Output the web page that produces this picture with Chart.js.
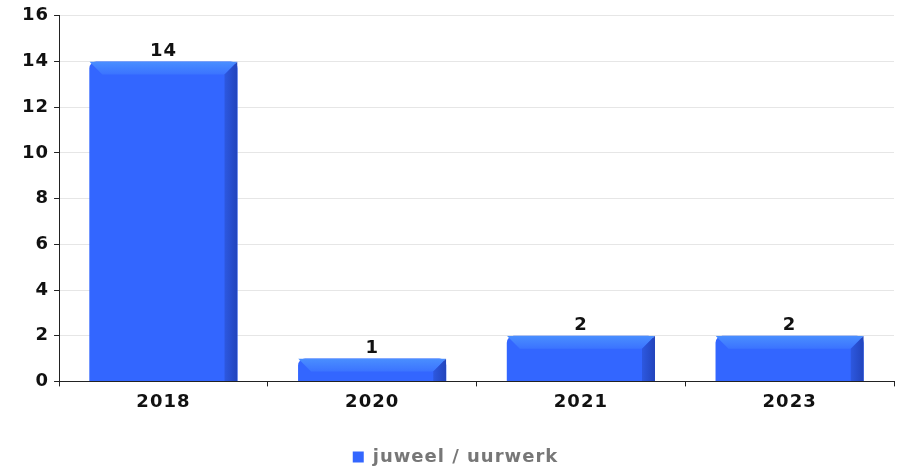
<!DOCTYPE html>
<html><head><meta charset="utf-8">
<script src="https://cdn.jsdelivr.net/npm/chart.js@4/dist/chart.umd.min.js"></script>
<style>html,body{margin:0;padding:0;background:#fff;}#wrap{width:903px;height:467px;}</style>
</head><body><div id="wrap"><canvas id="c" width="903" height="467"></canvas></div>
<script>
const categories = ["2018", "2020", "2021", "2023"];
const values = [14, 1, 2, 2];
const seriesName = "juweel / uurwerk";
const yTicks = [0, 2, 4, 6, 8, 10, 12, 14, 16];

const FONT = "'DejaVu Sans', sans-serif";
const SPACING = '1px';
const FS = 18;

function barFill(ctx) {
  const chart = ctx.chart;
  const el = ctx.element;
  if (!el || el.x === undefined) return '#3366ff';
  const w = el.width;
  const l = el.x - w / 2;
  const g = chart.ctx.createLinearGradient(l, 0, l + w, 0);
  g.addColorStop(0, '#4a8dff');
  g.addColorStop(0.09, '#3366ff');
  g.addColorStop(0.9, '#3366ff');
  g.addColorStop(1, '#2a50d8');
  return g;
}

const spacingPlugin = {
  id: 'spacing',
  beforeUpdate(chart) { chart.ctx.letterSpacing = SPACING; },
  beforeDraw(chart) { chart.ctx.letterSpacing = SPACING; },
  afterLayout(chart) {
    if (chart.legend) { chart.legend.top += 9; chart.legend.bottom += 9; }
  }
};

const bevelPlugin = {
  id: 'bevel',
  afterDatasetsDraw(chart) {
    const c = chart.ctx;
    const meta = chart.getDatasetMeta(0);
    meta.data.forEach((el) => {
      const w = el.width, l = el.x - w / 2, r = el.x + w / 2, t = el.y, b = el.base;
      const bev = Math.min(13, (b - t) * 0.6);
      c.save();
      c.beginPath();
      c.rect(l, t, w, b - t);
      c.clip();
      let g = c.createLinearGradient(0, t, 0, t + bev);
      g.addColorStop(0, '#4a8fff');
      g.addColorStop(1, '#3b73ff');
      c.fillStyle = g;
      c.beginPath();
      c.moveTo(l, t); c.lineTo(r, t); c.lineTo(r - bev, t + bev); c.lineTo(l + bev, t + bev); c.closePath();
      c.fill();
      g = c.createLinearGradient(r - bev, 0, r, 0);
      g.addColorStop(0, '#2d58e0');
      g.addColorStop(1, '#2244bb');
      c.fillStyle = g;
      c.beginPath();
      c.moveTo(r, t); c.lineTo(r, b); c.lineTo(r - bev, b); c.lineTo(r - bev, t + bev); c.closePath();
      c.fill();
      c.restore();
      c.save();
      c.letterSpacing = SPACING;
      c.font = "bold " + FS + "px " + FONT;
      c.fillStyle = '#111';
      c.textAlign = 'center';
      c.textBaseline = 'bottom';
      c.fillText(String(chart.data.datasets[0].data[el.$context.dataIndex]), el.x, t - 1);
      c.restore();
    });
  }
};

new Chart(document.getElementById('c'), {
  type: 'bar',
  data: {
    labels: categories,
    datasets: [{
      label: seriesName,
      data: values,
      backgroundColor: barFill,
      borderWidth: 0,
      borderRadius: {topLeft: 7, topRight: 7, bottomLeft: 0, bottomRight: 0},
      borderSkipped: 'bottom',
      barPercentage: 0.71,
      categoryPercentage: 1.0
    }]
  },
  options: {
    responsive: false,
    animation: false,
    devicePixelRatio: 1,
    layout: { padding: { left: 17, right: 9, top: 7, bottom: 0 } },
    plugins: {
      tooltip: { enabled: false },
      legend: {
        position: 'bottom',
        labels: {
          color: '#777',
          font: { family: FONT, size: FS, weight: 'bold' },
          boxWidth: 11, boxHeight: 11, padding: 21,
          generateLabels: (chart) => [{
            text: seriesName, fillStyle: '#3366ff', strokeStyle: '#3366ff', fontColor: '#777', lineWidth: 0, hidden: false, datasetIndex: 0
          }]
        }
      }
    },
    scales: {
      x: {
        offset: true,
        grid: { display: true, drawOnChartArea: false, offset: true, tickLength: 5, color: '#222', tickColor: '#222' },
        border: { display: true, color: '#222', width: 1 },
        ticks: { color: '#111', font: { family: FONT, size: FS, weight: 'bold' }, padding: 5 }
      },
      y: {
        min: 0, max: 16,
        afterBuildTicks: (s) => { s.ticks = yTicks.map(v => ({ value: v })); },
        grid: { color: '#e6e6e6', tickColor: '#222', tickLength: 5 },
        border: { display: true, color: '#222', width: 1 },
        ticks: { color: '#111', font: { family: FONT, size: FS, weight: 'bold' }, padding: 5 }
      }
    }
  },
  plugins: [spacingPlugin, bevelPlugin]
});
</script></body></html>
